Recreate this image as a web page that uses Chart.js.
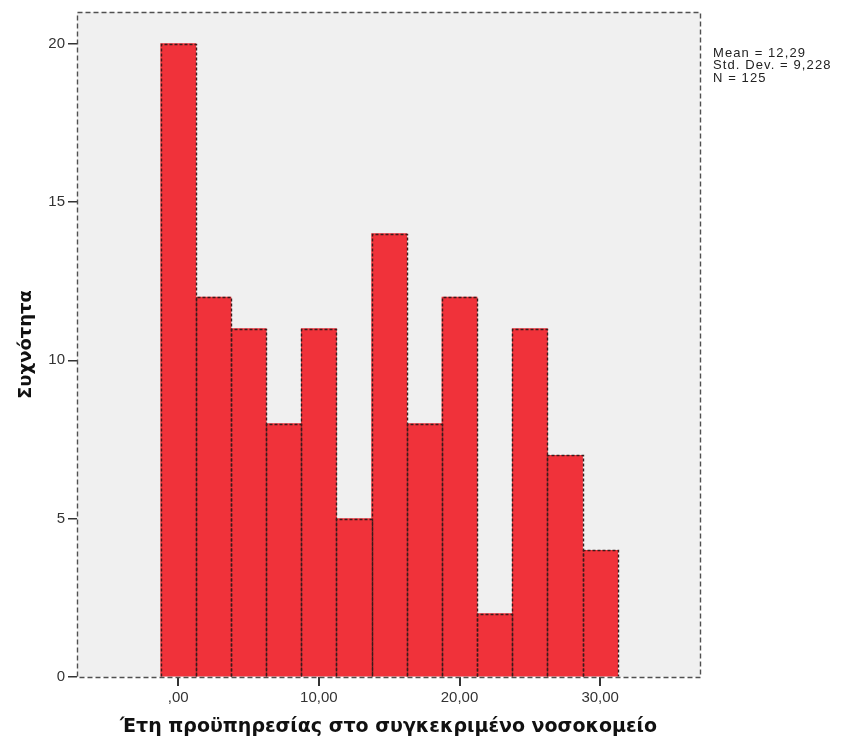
<!DOCTYPE html>
<html>
<head>
<meta charset="utf-8">
<script src="https://cdn.jsdelivr.net/npm/chart.js@4.4.1/dist/chart.umd.min.js"></script>
<style>
  html, body { margin: 0; padding: 0; background: #ffffff; }
  #wrap { width: 841px; height: 747px; position: relative; }
</style>
</head>
<body>
<div id="wrap"><canvas id="hist" width="841" height="747"></canvas></div>
<script>
// Histogram bins: centre of each 2.5-year bin and its frequency
const binCenters = [0, 2.5, 5, 7.5, 10, 12.5, 15, 17.5, 20, 22.5, 25, 27.5, 30];
const frequencies = [20, 12, 11, 8, 11, 5, 14, 8, 12, 2, 11, 7, 4];

// Axis ticks
const xTickValues = [0, 10, 20, 30];
const xTickLabels = [',00', '10,00', '20,00', '30,00'];
const yTickValues = [0, 5, 10, 15, 20];

// Summary statistics shown beside the plot
const statLines = ['Mean = 12,29', 'Std. Dev. = 9,228', 'N = 125'];

const xTitle = 'Έτη προϋπηρεσίας στο συγκεκριμένο νοσοκομείο';
const yTitle = 'Συχνότητα';

const barFill = '#f0323a';
const barEdge = '#3a1c1c';
const plotBg = '#f0f0f0';
const frameColor = '#505050';

// Light plot background and dashed frame around the chart area
const plotFrame = {
  id: 'plotFrame',
  beforeDatasetsDraw(chart) {
    const { ctx, chartArea: a } = chart;
    ctx.save();
    ctx.fillStyle = plotBg;
    ctx.fillRect(a.left, a.top, a.right - a.left, a.bottom - a.top);
    ctx.restore();
  },
  afterDatasetsDraw(chart) {
    const { ctx, chartArea: a } = chart;
    ctx.save();
    // dashed outline on every bar
    const meta = chart.getDatasetMeta(0);
    ctx.strokeStyle = barEdge;
    ctx.lineWidth = 1.4;
    ctx.setLineDash([3, 2]);
    meta.data.forEach(bar => {
      const p = bar.getProps(['x', 'y', 'base', 'width'], true);
      const l = Math.round(p.x - p.width / 2) + 0.5;
      const r = Math.round(p.x + p.width / 2) + 0.5;
      const t = Math.round(p.y) + 0.5;
      const b = Math.round(p.base) + 0.5;
      ctx.beginPath();
      ctx.moveTo(l, b);
      ctx.lineTo(l, t);
      ctx.lineTo(r, t);
      ctx.lineTo(r, b);
      ctx.stroke();
    });
    // dashed frame of the plot area
    ctx.strokeStyle = frameColor;
    ctx.lineWidth = 1.4;
    ctx.setLineDash([5, 3]);
    ctx.strokeRect(Math.round(a.left) + 0.5, Math.round(a.top) + 0.5,
                   Math.round(a.right - a.left), Math.round(a.bottom - a.top));
    ctx.restore();
  },
  afterDraw(chart) {
    const { ctx, chartArea: a } = chart;
    ctx.save();
    ctx.fillStyle = '#222';
    ctx.font = '13px "Liberation Sans", Arial, sans-serif';
    ctx.letterSpacing = '1.1px';
    ctx.textBaseline = 'alphabetic';
    statLines.forEach((s, i) => ctx.fillText(s, a.right + 13, a.top + 45 + i * 12.3));
    ctx.restore();
  }
};

new Chart(document.getElementById('hist'), {
  type: 'bar',
  data: {
    datasets: [{
      data: binCenters.map((c, i) => ({ x: c, y: frequencies[i] })),
      backgroundColor: barFill,
      borderWidth: 0,
      barPercentage: 1,
      categoryPercentage: 1
    }]
  },
  options: {
    responsive: false,
    animation: false,
    layout: { padding: { left: 0, top: 12, right: 141, bottom: 0 } },
    plugins: { legend: { display: false }, tooltip: { enabled: false } },
    scales: {
      x: {
        type: 'linear',
        offset: false,
        min: -7.2,
        max: 37.1,
        afterBuildTicks(scale) { scale.ticks = xTickValues.map(v => ({ value: v })); },
        afterFit(scale) { scale.height = 70; },
        ticks: {
          autoSkip: false,
          maxRotation: 0,
          padding: 3,
          color: '#333',
          font: { family: '"Liberation Sans", Arial, sans-serif', size: 15 },
          callback: (v) => xTickLabels[xTickValues.indexOf(v)]
        },
        grid: { display: true, offset: false, drawOnChartArea: false, drawTicks: true, tickLength: 9, color: '#333', lineWidth: 2 },
        border: { display: false },
        title: {
          display: true,
          text: xTitle,
          color: '#111',
          font: { family: '"DejaVu Sans", Verdana, sans-serif', size: 19, weight: 'bold' },
          padding: { top: 0, bottom: 8.6 }
        }
      },
      y: {
        min: 0,
        max: 21,
        afterBuildTicks(scale) { scale.ticks = yTickValues.map(v => ({ value: v })); },
        afterFit(scale) { scale.width = 77; },
        ticks: {
          padding: 3,
          color: '#333',
          font: { family: '"Liberation Sans", Arial, sans-serif', size: 15 },
          callback: (v) => String(v)
        },
        grid: { display: true, drawOnChartArea: false, drawTicks: true, tickLength: 9, color: '#333', lineWidth: 1.5 },
        border: { display: false },
        title: {
          display: true,
          text: yTitle,
          color: '#111',
          font: { family: '"DejaVu Sans", Verdana, sans-serif', size: 18, weight: 'bold' },
          padding: { top: 16, bottom: 0 }
        }
      }
    }
  },
  plugins: [plotFrame]
});
</script>
</body>
</html>
